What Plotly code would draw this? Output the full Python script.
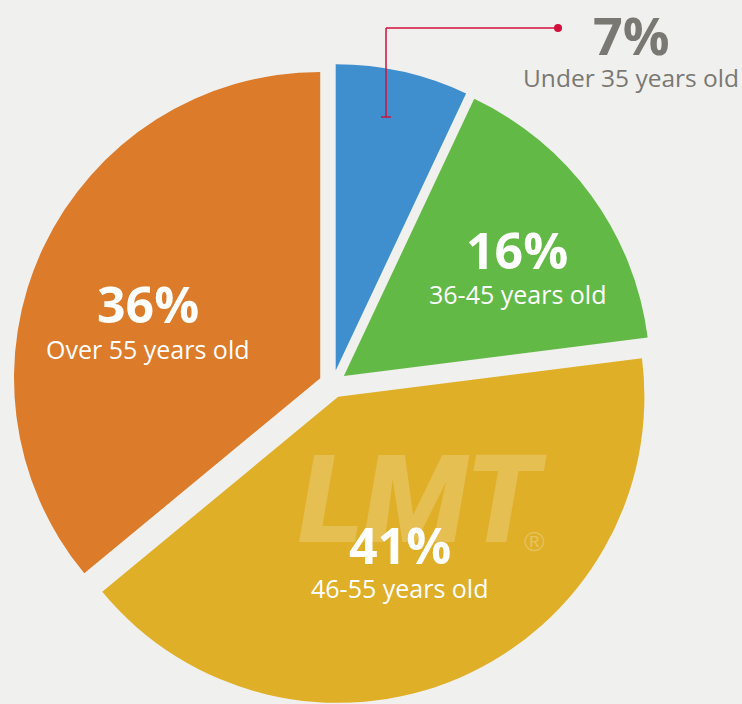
import plotly.graph_objects as go

W, H = 742, 704

categories = ["Under 35 years old", "36-45 years old", "46-55 years old", "Over 55 years old"]
values = [7, 16, 41, 36]
colors = ["#3f8ecd", "#63b946", "#e0af28", "#dc7b29"]
pct_labels = ["7%", "16%", "41%", "36%"]

def px(x):
    return x / W

def py(y):
    return 1 - y / H

fig = go.Figure()
fig.add_trace(go.Pie(
    labels=categories,
    values=values,
    sort=False,
    direction="clockwise",
    rotation=0,
    pull=[0.045] * len(values),
    marker=dict(colors=colors, line=dict(width=0)),
    textinfo="none",
    hoverinfo="label+percent",
    showlegend=False,
    domain=dict(x=[px(12.7), px(652.7)], y=[0, py(64)]),
))

white = "#ffffff"
gray = "#7a7872"
font_fam = "Open Sans, Noto Sans, sans-serif"

# label positions (pixels): (x, pct y, cat y, color, pct size, cat size)
label_pos = [
    (631, 35, 77, gray, 52, 24.5),
    (517, 250, 294, white, 50, 25),
    (400, 545, 588, white, 50, 25),
    (148, 304, 349, white, 50, 25),
]

annotations = []
# watermark
annotations.append(dict(
    x=px(423), y=py(500), xref="paper", yref="paper", text="LMT",
    showarrow=False, xanchor="center", yanchor="middle",
    font=dict(family="Roboto, Liberation Sans, sans-serif", weight=900, style="italic",
              size=122, color="rgba(255,255,255,0.2)"),
))
annotations.append(dict(
    x=px(534), y=py(541), xref="paper", yref="paper", text="®",
    showarrow=False, xanchor="center", yanchor="middle",
    font=dict(family="Liberation Sans, Arial, sans-serif", size=28, color="rgba(255,255,255,0.25)"),
))
for (x, yp, yc, col, s1, s2), pl, cat in zip(label_pos, pct_labels, categories):
    annotations.append(dict(
        x=px(x), y=py(yp), xref="paper", yref="paper", text=pl,
        showarrow=False, xanchor="center", yanchor="middle",
        font=dict(family=font_fam, size=s1, color=col, weight="bold"),
    ))
    annotations.append(dict(
        x=px(x), y=py(yc), xref="paper", yref="paper", text=cat,
        showarrow=False, xanchor="center", yanchor="middle",
        font=dict(family=font_fam, size=s2, color=col),
    ))

red = "#d2103c"
shapes = [
    dict(type="line", xref="paper", yref="paper", x0=px(386), y0=py(117), x1=px(386), y1=py(28),
         line=dict(color=red, width=1.5)),
    dict(type="line", xref="paper", yref="paper", x0=px(386), y0=py(28), x1=px(556), y1=py(28),
         line=dict(color=red, width=1.5)),
    dict(type="line", xref="paper", yref="paper", x0=px(381), y0=py(117), x1=px(391), y1=py(117),
         line=dict(color=red, width=1.5)),
    dict(type="circle", xref="paper", yref="paper", x0=px(554), y0=py(24), x1=px(562), y1=py(32),
         fillcolor=red, line=dict(color=red, width=0)),
]

fig.update_layout(
    width=W, height=H,
    margin=dict(l=0, r=0, t=0, b=0),
    paper_bgcolor="#f0f0ee",
    plot_bgcolor="#f0f0ee",
    annotations=annotations,
    shapes=shapes,
)

fig.write_html("out.html", config={"displayModeBar": False},
               post_script="document.body.style.margin='0';document.body.style.background='#f0f0ee';")
